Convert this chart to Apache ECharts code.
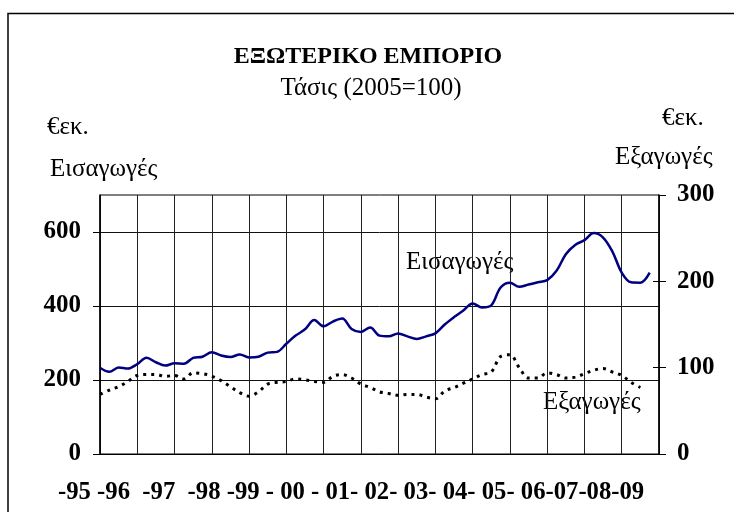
<!DOCTYPE html>
<html>
<head>
<meta charset="utf-8">
<script src="https://cdn.jsdelivr.net/npm/echarts@6/dist/echarts.min.js"></script>
<style>
html,body{margin:0;padding:0;background:#fff;}
#chart{width:734px;height:512px;}
</style>
</head>
<body>
<div id="chart"></div>
<script>
// ---- data ----
const years = ['1995','1996','1997','1998','1999','2000','2001','2002','2003','2004','2005','2006','2007','2008','2009','2010'];
const quarterNames = ['Q1','Q2','Q3','Q4'];
// Imports (left axis, € million) – quarterly
const imports = [233,222,234,231,243,260,248,239,245,244,260,263,275,266,262,269,261,263,274,276,
  298,320,337,362,345,358,366,338,330,342,320,318,326,318,311,318,326,350,370,388,
  407,396,402,450,463,452,458,464,470,495,540,565,578,597,585,547,490,464,463,490];
// Exports (right axis, € million) – quarterly
const exportsData = [69,74,78,84,91,92,92,90,91,87,94,93,90,85,78,71,67,72,81,83,
  84,87,86,84,83,90,92,88,81,77,72,70,68,69,69,66,64,73,77,82,
  87,92,95,113,115,100,88,88,94,92,88,89,93,97,99,95,91,83,77];
const leftTicks = [0,200,400,600];
const rightTicks = [0,100,200,300];
const xLabelText = '-95 -96  -97  -98 -99 - 00 - 01- 02- 03- 04- 05- 06-07-08-09';
const titleText = 'ΕΞΩΤΕΡΙΚΟ ΕΜΠΟΡΙΟ';
const subtitleText = 'Τάσις (2005=100)';
const unitText = '€εκ.';
const importsName = 'Εισαγωγές';
const exportsName = 'Εξαγωγές';

// quarterly categories
const categories = [];
for (let y = 0; y < years.length - 1; y++) {
  for (let q = 0; q < 4; q++) categories.push(years[y] + quarterNames[q]);
}
categories.push(years[years.length - 1] + 'Q1');

const serif = 'Liberation Serif, Times New Roman, serif';
const chart = echarts.init(document.getElementById('chart'), null, {renderer: 'canvas'});

function txt(text, x, y, size, bold, align) {
  return {
    type: 'text', x: x, y: y, silent: true,
    style: {text: text, fill: '#000', font: (bold ? 'bold ' : '') + size + 'px ' + serif,
      textAlign: align || 'left', textVerticalAlign: 'middle'}
  };
}

chart.setOption({
  animation: false,
  backgroundColor: '#fff',
  grid: {left: 100, right: 75, top: 195, bottom: 58, show: true, borderColor: '#000', borderWidth: 1, backgroundColor: 'transparent'},
  xAxis: {
    type: 'category', data: categories, boundaryGap: false,
    axisLine: {show: true, lineStyle: {color: '#000', width: 1}},
    axisTick: {show: false}, axisLabel: {show: false},
    splitLine: {show: true, interval: function (i) { return i % 4 === 0; }, lineStyle: {color: '#222', width: 1}}
  },
  yAxis: [
    {
      type: 'value', position: 'left', min: 0, max: 700, interval: 200,
      axisLine: {show: true, lineStyle: {color: '#000', width: 1.5}},
      axisTick: {show: true, length: 7, customValues: leftTicks, lineStyle: {color: '#000'}},
      axisLabel: {customValues: leftTicks, margin: 19, color: '#000', fontFamily: serif, fontWeight: 'bold', fontSize: 25},
      splitLine: {show: true, lineStyle: {color: '#111', width: 1}}
    },
    {
      type: 'value', position: 'right', min: 0, max: 300, interval: 100,
      axisLine: {show: true, lineStyle: {color: '#000', width: 1.5}},
      axisTick: {show: true, length: 7, lineStyle: {color: '#000'}},
      axisLabel: {margin: 18, color: '#000', fontFamily: serif, fontWeight: 'bold', fontSize: 25},
      splitLine: {show: false}
    },
    {
      type: 'value', position: 'right', min: 0, max: 300, interval: 100,
      axisLine: {show: false},
      axisTick: {show: true, inside: true, length: 6, customValues: [100, 200], lineStyle: {color: '#000'}},
      axisLabel: {show: false}, splitLine: {show: false}
    }
  ],
  series: [
    {
      name: importsName, type: 'line', yAxisIndex: 0, data: imports,
      smooth: 0.35, symbol: 'none',
      lineStyle: {color: '#000080', width: 2.5}
    },
    {
      name: exportsName, type: 'line', yAxisIndex: 1, data: exportsData,
      smooth: 0.35, symbol: 'none',
      lineStyle: {color: '#000', width: 3, type: [3, 5], cap: 'butt'}
    }
  ],
  graphic: [
    {type: 'polyline', silent: true, shape: {points: [[8, 520], [8, 13.5], [740, 13.5]]}, style: {stroke: '#000', lineWidth: 1.5, fill: null}},
    txt(titleText, 368, 57, 24, true, 'center'),
    txt(subtitleText, 371, 88, 25, false, 'center'),
    txt(unitText, 47, 127, 25, false, 'left'),
    txt(importsName, 50, 169, 25, false, 'left'),
    txt(unitText, 662, 118, 25, false, 'left'),
    txt(exportsName, 615, 157, 25, false, 'left'),
    txt(importsName, 406, 262, 25, false, 'left'),
    txt(exportsName, 543, 402, 25, false, 'left'),
    txt(xLabelText, 58, 493, 24.7, true, 'left')
  ]
});
</script>
</body>
</html>
